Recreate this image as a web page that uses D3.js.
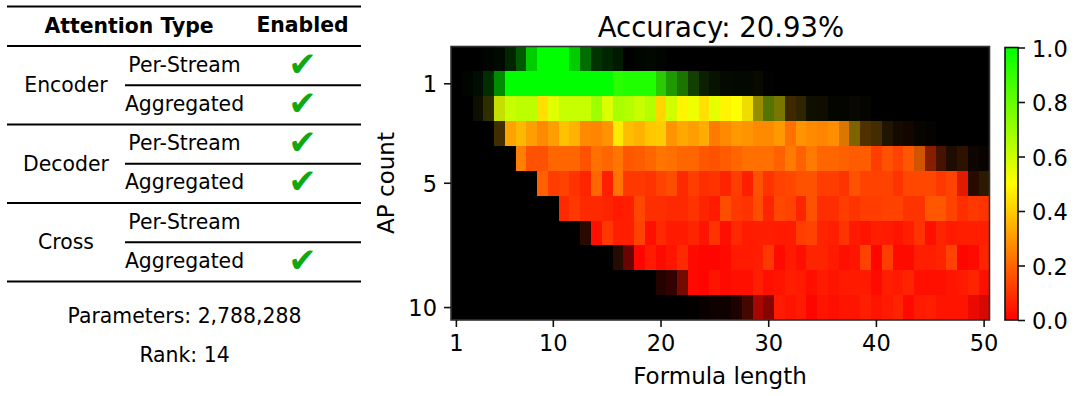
<!DOCTYPE html>
<html>
<head>
<meta charset="utf-8">
<script src="https://cdn.jsdelivr.net/npm/d3@7"></script>
<style>
  body { margin: 0; background: #fff; }
  svg { display: block; }
  text { font-family: "DejaVu Sans", sans-serif; fill: #000; }
  .axis text { font-size: 22.5px; }
  .axis path, .axis line { stroke: #111; stroke-width: 1.6px; }
</style>
</head>
<body>
<svg id="chart" width="1078" height="396"></svg>
<script>
// --- Table contents ---
const groups = ["Encoder", "Decoder", "Cross"];
const streams = ["Per-Stream", "Aggregated"];
const enabled = [[true, true], [true, true], [false, true]];
const tableHeaders = ["Attention Type", "Enabled"];
const footerLines = ["Parameters: 2,788,288", "Rank: 14"];

// --- Heatmap axes ---
const chartTitle = "Accuracy: 20.93%";
const formulaLengths = d3.range(1, 51);
const apCounts = d3.range(0, 11);
const xTicks = [1, 10, 20, 30, 40, 50];
const yTicks = [1, 5, 10];
const colorTicks = [0, 0.2, 0.4, 0.6, 0.8, 1];

// accuracy per AP count (rows) and formula length (columns)
const accuracy = [
  [1,1,1,1,1,1,1,1,1,1,1,1,1,1,1,1,1,1,1,1,1,1,1,1,1,1,1,1,1,1,1,1,1,1,1,1,1,1,1,1,1,1,1,1,1,1,1,1,1,1],
  [1,1,1,1,1,1,1,1,1,1,1,1,1,1,1,.92,.94,.94,.94,.9,.9,.88,.85,.8,.8,.8,.8,.8,.6,.6,1,1,1,1,1,1,1,1,1,1,1,1,1,1,1,1,1,1,1,1],
  [.5,.5,.5,.5,.56,.61,.63,.63,.44,.56,.61,.61,.61,.69,.57,.67,.65,.61,.65,.42,.59,.48,.53,.44,.55,.48,.5,.46,.47,.63,.5,.33,.39,.5,.4,.5,.5,.5,.5,.5,.5,.5,.5,.5,.5,.5,.5,.5,.5,.5],
  [.3,.3,.3,.3,.35,.32,.36,.31,.27,.31,.38,.35,.27,.26,.29,.46,.37,.35,.39,.4,.29,.33,.31,.34,.24,.27,.3,.29,.27,.27,.3,.22,.29,.27,.26,.28,.27,.4,.31,.32,.33,.25,.12,.3,.3,.3,.3,.3,.3,.3],
  [.2,.2,.2,.2,.2,.2,.25,.16,.16,.2,.2,.2,.16,.22,.2,.23,.17,.18,.2,.23,.22,.2,.2,.17,.16,.18,.2,.22,.22,.22,.19,.24,.19,.24,.2,.2,.19,.18,.18,.12,.16,.13,.17,.2,.11,.14,.2,.2,.2,.2],
  [.1,.1,.1,.1,.1,.1,.1,.1,.19,.12,.13,.1,.07,.2,.06,.23,.11,.11,.1,.13,.15,.08,.12,.09,.1,.07,.12,.06,.16,.1,.13,.14,.16,.16,.12,.12,.1,.16,.13,.13,.13,.1,.14,.14,.14,.11,.13,.06,.12,.3],
  [.1,.1,.1,.1,.1,.1,.1,.1,.1,.1,.08,.11,.08,.08,.07,.05,.06,.14,.09,.09,.08,.08,.1,.07,.05,.15,.11,.1,.15,.07,.14,.13,.07,.16,.09,.09,.12,.1,.12,.12,.13,.13,.1,.1,.17,.17,.13,.09,.11,.1],
  [.1,.1,.1,.1,.1,.1,.1,.1,.1,.1,.1,.1,.1,.03,.11,.06,.06,.13,.03,.08,.05,.05,.07,.04,.1,.03,.08,.05,.06,.06,.05,.05,.12,.13,.07,.06,.1,.05,.04,.06,.05,.04,.06,.1,.03,.07,.05,.06,.06,.06],
  [.05,.05,.05,.05,.05,.05,.05,.05,.05,.05,.05,.05,.05,.05,.05,.15,.02,.01,.05,.02,.04,.08,.02,.01,.01,.02,.05,.05,.06,.11,.02,.05,.03,.07,.07,.05,.03,.04,.13,.01,.12,.02,.02,.06,.06,.07,.13,.01,.02,.07],
  [.05,.05,.05,.05,.05,.05,.05,.05,.05,.05,.05,.05,.05,.05,.05,.05,.05,.05,.05,.03,.02,.05,.02,.01,.04,.02,.03,.03,.06,.03,.04,.06,.05,.03,.05,.04,.05,.05,.05,.02,.06,.05,.07,.03,.03,.03,.04,.05,.07,.03],
  [.02,.02,.02,.02,.02,.02,.02,.02,.02,.02,.02,.02,.02,.02,.02,.02,.02,.02,.02,.02,.02,.02,.02,.02,.02,.02,.02,.05,.02,.02,.05,.04,.05,.01,.04,.03,.04,.04,.06,.04,.05,.07,.02,.05,.06,.04,.04,.04,.02,.02]
];

// how much of each cell shows through the black background (few samples = dark)
const coverage = [
  [0,0,0,.02,.04,.15,.35,.8,1,1,1,.8,.43,.2,.15,.1,0,.02,.03,.02,0,0,0,0,0,0,0,0,0,0,0,0,0,0,0,0,0,0,0,0,0,0,0,0,0,0,0,0,0,0],
  [0,.02,.05,.18,.55,1,1,1,1,1,1,1,1,1,1,1,1,1,1,.8,.6,.45,.25,.12,.07,.04,.03,.03,.04,.01,0,0,0,0,0,0,0,0,0,0,0,0,0,0,0,0,0,0,0,0],
  [0,0,.06,.18,.88,1,1,1,1,1,1,1,1,1,1,1,1,1,1,1,1,1,1,1,1,1,1,.94,.59,.45,.47,.24,.18,.06,.06,.02,.02,.03,.02,0,0,0,0,0,0,0,0,0,0,0],
  [0,0,0,0,.25,1,1,1,1,1,1,1,1,1,1,1,1,1,1,1,1,1,1,1,1,1,1,1,1,1,1,1,1,1,1,1,.86,.49,.31,.27,.12,.08,.08,.03,.02,0,0,0,0,0],
  [0,0,0,0,0,0,1,1,1,1,1,1,1,1,1,1,1,1,1,1,1,1,1,1,1,1,1,1,1,1,1,1,1,1,1,1,1,1,1,1,1,1,1,.82,.53,.27,.12,.18,.05,.03],
  [0,0,0,0,0,0,0,0,1,1,1,1,1,1,1,1,1,1,1,1,1,1,1,1,1,1,1,1,1,1,1,1,1,1,1,1,1,1,1,1,1,1,1,1,1,1,1,.88,.16,.17],
  [0,0,0,0,0,0,0,0,0,0,1,1,1,1,1,1,1,1,1,1,1,1,1,1,1,1,1,1,1,1,1,1,1,1,1,1,1,1,1,1,1,1,1,1,1,1,1,1,1,1],
  [0,0,0,0,0,0,0,0,0,0,0,0,.17,1,1,1,1,1,1,1,1,1,1,1,1,1,1,1,1,1,1,1,1,1,1,1,1,1,1,1,1,1,1,1,1,1,1,1,1,1],
  [0,0,0,0,0,0,0,0,0,0,0,0,0,0,0,.15,.41,1,1,1,1,1,1,1,1,1,1,1,1,1,1,1,1,1,1,1,1,1,1,1,1,1,1,1,1,1,1,1,1,1],
  [0,0,0,0,0,0,0,0,0,0,0,0,0,0,0,0,0,0,0,.14,.2,.45,1,1,1,1,1,1,1,1,1,1,1,1,1,1,1,1,1,1,1,1,1,1,1,1,1,1,1,1],
  [0,0,0,0,0,0,0,0,0,0,0,0,0,0,0,0,0,0,0,0,0,0,.01,.04,.06,.06,.12,.27,.65,.53,1,1,1,1,1,1,1,1,1,1,1,1,1,1,1,1,1,1,.92,.84]
];

const svg = d3.select("#chart");

// --- Left table ---
const tableLeft = 7, tableRight = 361, streamLeft = 125;
const ruleY = d3.scalePoint().domain(d3.range(0, 3)).range([46, 203]);
const rowH = 39.3;
const tableFont = 20.4;

function rule(x1, x2, y) {
  svg.append("line").attr("x1", x1).attr("x2", x2).attr("y1", y).attr("y2", y)
    .attr("stroke", "#000").attr("stroke-width", 2);
}

rule(tableLeft, tableRight, 6.5);
svg.append("text").attr("x", 129).attr("y", 25.5).attr("text-anchor", "middle")
  .attr("dominant-baseline", "central").attr("font-size", tableFont).attr("font-weight", "bold")
  .text(tableHeaders[0]);
svg.append("text").attr("x", 302.5).attr("y", 25).attr("text-anchor", "middle")
  .attr("dominant-baseline", "central").attr("font-size", tableFont).attr("font-weight", "bold")
  .text(tableHeaders[1]);

groups.forEach((g, i) => {
  const top = ruleY(i);
  rule(tableLeft, tableRight, top);
  rule(streamLeft, tableRight, top + rowH);
  svg.append("text").attr("x", 66).attr("y", top + rowH).attr("text-anchor", "middle")
    .attr("dominant-baseline", "central").attr("font-size", tableFont).text(g);
  streams.forEach((s, j) => {
    const cy = top + rowH * (j + 0.5);
    svg.append("text").attr("x", 184.5).attr("y", cy - 1).attr("text-anchor", "middle")
      .attr("dominant-baseline", "central").attr("font-size", tableFont).text(s);
    if (enabled[i][j]) {
      svg.append("text").attr("x", 302.5).attr("y", cy - 2).attr("text-anchor", "middle")
        .attr("dominant-baseline", "central").attr("font-size", 34)
        .style("fill", "#10a810").text("\u2714");
    }
  });
});
rule(tableLeft, tableRight, 281.5);

footerLines.forEach((t, i) => {
  svg.append("text").attr("x", 184.5).attr("y", 316 + i * 39).attr("text-anchor", "middle")
    .attr("dominant-baseline", "central").attr("font-size", tableFont).text(t);
});

// --- Heatmap ---
const x = d3.scaleBand().domain(formulaLengths).range([451, 989.5]);
const y = d3.scaleBand().domain(apCounts).range([46.5, 320]);
const color = d3.scaleLinear().domain([0, 0.5, 1]).range(["#ff0000", "#ffff00", "#00ff00"]);

svg.append("rect").attr("x", 451).attr("y", 46.5).attr("width", 538.5).attr("height", 273.5).attr("fill", "#000");

const cells = [];
apCounts.forEach((ap, r) => {
  formulaLengths.forEach((len, c) => {
    cells.push({ ap, len, value: accuracy[r][c], shade: coverage[r][c] });
  });
});

svg.append("g").selectAll("rect")
  .data(cells.filter(d => d.shade > 0))
  .join("rect")
  .attr("x", d => x(d.len))
  .attr("y", d => y(d.ap))
  .attr("width", x.bandwidth())
  .attr("height", y.bandwidth())
  .attr("fill", d => color(d.value))
  .attr("fill-opacity", d => d.shade)
  .attr("shape-rendering", "crispEdges");

svg.append("rect").attr("x", 451).attr("y", 46.5).attr("width", 538.5).attr("height", 273.5)
  .attr("fill", "none").attr("stroke", "#333").attr("stroke-width", 1.6);

const xAxis = svg.append("g").attr("class", "axis").attr("transform", "translate(0,320)")
  .call(d3.axisBottom(x).tickValues(xTicks).tickSize(7).tickPadding(8));
xAxis.select(".domain").remove();

const yAxis = svg.append("g").attr("class", "axis").attr("transform", "translate(451,0)")
  .call(d3.axisLeft(y).tickValues(yTicks).tickSize(7).tickPadding(7));
yAxis.select(".domain").remove();
yAxis.selectAll("text").attr("dy", "0.38em");

svg.append("text").attr("x", 721).attr("y", 27).attr("text-anchor", "middle")
  .attr("dominant-baseline", "central").attr("font-size", 27.5).text(chartTitle);
svg.append("text").attr("x", 720).attr("y", 376).attr("text-anchor", "middle")
  .attr("dominant-baseline", "central").attr("font-size", 23).text("Formula length");
svg.append("text").attr("transform", "translate(386,183) rotate(-90)").attr("text-anchor", "middle")
  .attr("dominant-baseline", "central").attr("font-size", 23).text("AP count");

// --- Colour bar ---
const barX = 1005, barW = 13;
const barY = d3.scaleLinear().domain([0, 1]).range([320, 47.5]);
const grad = svg.append("defs").append("linearGradient").attr("id", "barGrad")
  .attr("x1", 0).attr("x2", 0).attr("y1", 1).attr("y2", 0);
color.domain().forEach(v => {
  grad.append("stop").attr("offset", v).attr("stop-color", color(v));
});
svg.append("rect").attr("x", barX).attr("y", barY(1)).attr("width", barW)
  .attr("height", barY(0) - barY(1)).attr("fill", "url(#barGrad)")
  .attr("stroke", "#111").attr("stroke-width", 1.6);
const barAxis = svg.append("g").attr("class", "axis").attr("transform", `translate(${barX + barW},0)`)
  .call(d3.axisRight(barY).tickValues(colorTicks).tickFormat(d3.format(".1f")).tickSize(7).tickPadding(7));
barAxis.select(".domain").remove();
barAxis.selectAll("text").attr("dy", "0.38em");
</script>
</body>
</html>
